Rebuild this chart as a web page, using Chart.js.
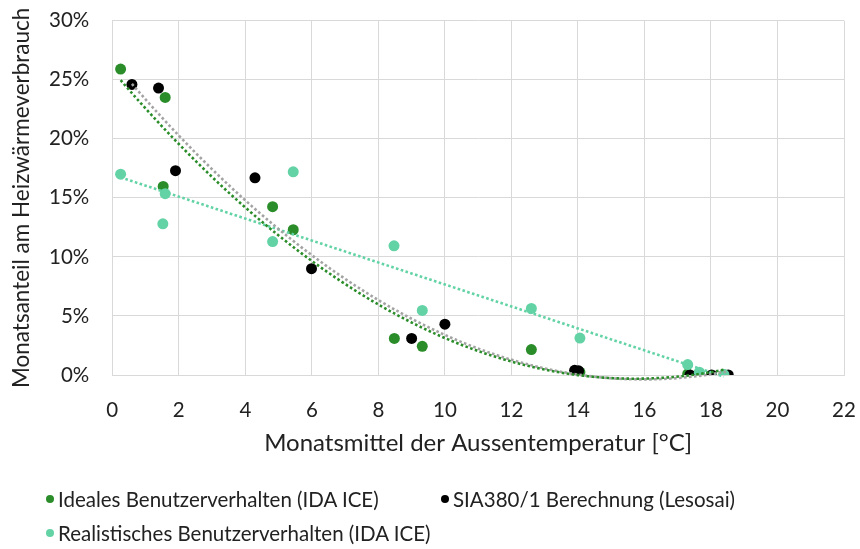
<!DOCTYPE html>
<html>
<head>
<meta charset="utf-8">
<script src="https://cdn.jsdelivr.net/npm/chart.js@4.4.1/dist/chart.umd.min.js"></script>
<style>
  html, body { margin: 0; padding: 0; background: #fff; }
  #wrap { position: relative; width: 860px; height: 549px; }
  #chart { position: absolute; left: 0; top: 0; }
  .item { position: absolute; display: flex; align-items: center; white-space: nowrap;
          font-family: Lato, "Open Sans", sans-serif; font-size: 20.5px; color: #222; line-height: 24px; }
  .dot { width: 8px; height: 8px; border-radius: 50%; margin-right: 4px; flex: none; }
  #lg0 { left: 46px; top: 487px; }
  #lg1 { left: 441px; top: 487px; }
  #lg2 { left: 46px; top: 521px; }
</style>
</head>
<body>
<div id="wrap">
  <canvas id="chart" width="860" height="549"></canvas>
  <div class="item" id="lg0"></div>
  <div class="item" id="lg1"></div>
  <div class="item" id="lg2"></div>
</div>
<script>
// Series names
const seriesNames = [
  'Ideales Benutzerverhalten (IDA ICE)',
  'SIA380/1 Berechnung (Lesosai)',
  'Realistisches Benutzerverhalten (IDA ICE)'
];

// Monthly mean outdoor temperature [°C] and monthly share of heating demand [%]
const idealTemp  = [0.25, 1.53, 1.59, 4.82, 5.44, 8.48, 9.32, 12.6, 14.06, 17.3, 17.65, 18.39];
const idealShare = [25.9, 15.97, 23.5, 14.25, 12.3, 3.1, 2.43, 2.15, 0.25, 0.1, 0.15, 0.02];

const siaTemp  = [0.59, 1.39, 1.9, 4.29, 5.99, 9.0, 10.0, 13.9, 14.02, 17.37, 18.02, 18.52];
const siaShare = [24.6, 24.3, 17.3, 16.7, 9.0, 3.1, 4.3, 0.4, 0.35, 0, 0, 0];

const realTemp  = [0.25, 1.52, 1.59, 4.82, 5.44, 8.47, 9.32, 12.6, 14.06, 17.3, 17.65, 18.39];
const realShare = [17.0, 12.8, 15.35, 11.3, 17.2, 10.94, 5.47, 5.63, 3.13, 0.88, 0.24, 0.04];

// Axis ticks
const xTicks = [0, 2, 4, 6, 8, 10, 12, 14, 16, 18, 20, 22];
const yTicks = [0, 5, 10, 15, 20, 25, 30];

const colIdeal = '#2A8D2A';
const colSia = '#000000';
const colReal = '#63D3A6';
const colSiaTrend = '#A3A3A3';

const FONT = 'Lato, "Open Sans", sans-serif';

// Least-squares polynomial fit (degree 1 or 2), returns [c0, c1, c2...]
function polyFit(xs, ys, deg) {
  const n = deg + 1;
  const A = Array.from({length: n}, () => new Array(n + 1).fill(0));
  for (let k = 0; k < xs.length; k++) {
    for (let i = 0; i < n; i++) {
      for (let j = 0; j < n; j++) A[i][j] += Math.pow(xs[k], i + j);
      A[i][n] += ys[k] * Math.pow(xs[k], i);
    }
  }
  for (let c = 0; c < n; c++) {
    let p = c;
    for (let r = c + 1; r < n; r++) {
      if (Math.abs(A[r][c]) > Math.abs(A[p][c])) p = r;
    }
    const tmp = A[c]; A[c] = A[p]; A[p] = tmp;
    for (let r = 0; r < n; r++) {
      if (r === c) continue;
      const f = A[r][c] / A[c][c];
      for (let j = c; j <= n; j++) A[r][j] -= f * A[c][j];
    }
  }
  return A.map((row, i) => row[n] / row[i]);
}

// Sample a fitted trend curve across the series' temperature range
function trendPoints(xs, ys, deg) {
  const coef = polyFit(xs, ys, deg);
  const lo = Math.min(...xs), hi = Math.max(...xs);
  const pts = [];
  const steps = 120;
  for (let s = 0; s <= steps; s++) {
    const x = lo + (hi - lo) * s / steps;
    let y = 0;
    coef.forEach((c, i) => { y += c * Math.pow(x, i); });
    pts.push({x, y});
  }
  return pts;
}

const toPts = (xs, ys) => xs.map((x, i) => ({x, y: ys[i]}));

function scatterSet(label, xs, ys, color, order) {
  return {
    label, data: toPts(xs, ys), order, showLine: false,
    backgroundColor: color, borderColor: color,
    pointRadius: 5.5, pointHoverRadius: 5.5, pointBorderWidth: 0
  };
}

function trendSet(xs, ys, deg, color) {
  return {
    label: '', data: trendPoints(xs, ys, deg), order: 0, showLine: true,
    borderColor: color, backgroundColor: color, borderWidth: 2.6, borderDash: [2.6, 2.4],
    pointRadius: 0, pointHoverRadius: 0, fill: false, tension: 0, clip: false
  };
}

new Chart(document.getElementById('chart'), {
  type: 'scatter',
  data: {
    datasets: [
      trendSet(idealTemp, idealShare, 2, colIdeal),
      trendSet(siaTemp, siaShare, 2, colSiaTrend),
      trendSet(realTemp, realShare, 1, colReal),
      scatterSet(seriesNames[2], realTemp, realShare, colReal, 1),
      scatterSet(seriesNames[1], siaTemp, siaShare, colSia, 2),
      scatterSet(seriesNames[0], idealTemp, idealShare, colIdeal, 3)
    ]
  },
  options: {
    responsive: false,
    animation: false,
    events: [],
    layout: { padding: { left: 8, right: 16, top: 20.7, bottom: 91 } },
    plugins: { legend: { display: false }, tooltip: { enabled: false } },
    scales: {
      x: {
        type: 'linear', min: 0, max: 22,
        afterBuildTicks: s => { s.ticks = xTicks.map(v => ({value: v})); },
        afterFit: s => { s.height = 83; },
        grid: { color: '#D9D9D9', lineWidth: 1, drawTicks: true, tickLength: 23, tickColor: 'rgba(0,0,0,0)' },
        border: { color: '#D9D9D9' },
        ticks: { padding: 0, color: '#222', font: { family: FONT, size: 20.5 } },
        title: { display: true, text: 'Monatsmittel der Aussentemperatur [°C]', color: '#222',
                 font: { family: FONT, size: 24 }, padding: 0 }
      },
      y: {
        type: 'linear', min: 0, max: 30,
        afterBuildTicks: s => { s.ticks = yTicks.map(v => ({value: v})); },
        afterFit: s => { s.width = 112.3 - 8; },
        grid: { color: '#D9D9D9', lineWidth: 1, drawTicks: true, tickLength: 23, tickColor: 'rgba(0,0,0,0)' },
        border: { color: '#D9D9D9' },
        ticks: { padding: 0, color: '#222', font: { family: FONT, size: 20.5 },
                 callback: v => v + '%' },
        title: { display: true, text: 'Monatsanteil am Heizwärmeverbrauch', color: '#222',
                 font: { family: FONT, size: 22.5 }, padding: 0 }
      }
    }
  }
});

// Legend
const legendColors = [colIdeal, colSia, colReal];
seriesNames.forEach((name, i) => {
  const el = document.getElementById('lg' + i);
  const dot = document.createElement('span');
  dot.className = 'dot';
  dot.style.background = legendColors[i];
  const txt = document.createElement('span');
  txt.textContent = name;
  el.appendChild(dot);
  el.appendChild(txt);
});
</script>
</body>
</html>
